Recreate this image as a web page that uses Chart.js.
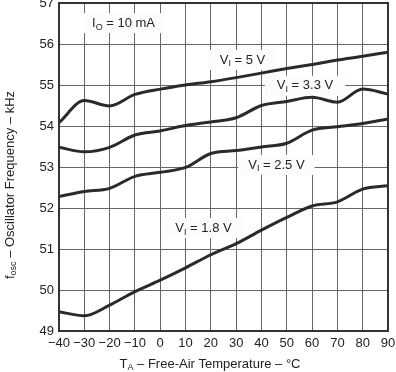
<!DOCTYPE html>
<html>
<head>
<meta charset="utf-8">
<script src="https://cdn.jsdelivr.net/npm/chart.js@4.4.0/dist/chart.umd.min.js"></script>
<style>
  html, body { margin: 0; padding: 0; background: #fff; }
  #wrap { width: 396px; height: 372px; }
</style>
</head>
<body>
<div id="wrap"><canvas id="freqChart"></canvas></div>
<script>
// temperature in °C, frequency in kHz
const temps = [-40, -30, -20, -10, 0, 10, 20, 30, 40, 50, 60, 70, 80, 90];
const vi5V  = [54.08, 54.62, 54.49, 54.77, 54.90, 55.00, 55.08, 55.18, 55.29, 55.40, 55.50, 55.61, 55.70, 55.80];
const vi33V = [53.48, 53.37, 53.48, 53.78, 53.88, 54.01, 54.10, 54.20, 54.50, 54.60, 54.70, 54.58, 54.90, 54.78];
const vi25V = [52.28, 52.40, 52.48, 52.77, 52.87, 52.99, 53.33, 53.40, 53.49, 53.58, 53.90, 53.98, 54.06, 54.17];
const vi18V = [49.47, 49.37, 49.63, 49.96, 50.24, 50.54, 50.86, 51.13, 51.46, 51.77, 52.05, 52.15, 52.46, 52.54];
const yTicks = [49, 50, 51, 52, 53, 54, 55, 56, 57];

const FONT = '"Liberation Sans", Arial, sans-serif';
const mainFont = '13px ' + FONT;
const subFont = '9px ' + FONT;

// curve labels, placed in data coordinates (°C, kHz)
const notes = [
    { parts: [['I', 0], ['O', 1], [' = 10 mA', 0]], t: -14.5, f: 56.51, padX: 10 },
    { parts: [['V', 0], ['I', 1], [' = 5 V', 0]], t: 32.5, f: 55.61, padX: 12 },
    { parts: [['V', 0], ['I', 1], [' = 3.3 V', 0]], t: 57.2, f: 54.98, padX: 12 },
    { parts: [['V', 0], ['I', 1], [' = 2.5 V', 0]], t: 45.9, f: 53.05, padX: 10 },
    { parts: [['V', 0], ['I', 1], [' = 1.8 V', 0]], t: 17.1, f: 51.51, padX: 12 }
];

function toXY(xs, ys) {
    return xs.map((x, i) => ({ x: x, y: ys[i] }));
}

function richWidth(ctx, parts) {
    let w = 0;
    parts.forEach(p => {
        ctx.font = p[1] ? subFont : mainFont;
        w += ctx.measureText(p[0]).width;
    });
    return w;
}

// draws text with subscript pieces, centred on x, middle baseline at y
function drawRich(ctx, parts, x, y) {
    const w = richWidth(ctx, parts);
    let cx = x - w / 2;
    ctx.textAlign = 'left';
    ctx.textBaseline = 'middle';
    parts.forEach(p => {
        ctx.font = p[1] ? subFont : mainFont;
        ctx.fillText(p[0], cx, y + (p[1] ? 4 : 0));
        cx += ctx.measureText(p[0]).width;
    });
}

const labelPlugin = {
    id: 'labelPlugin',
    beforeDatasetsDraw(chart) {
        const ctx = chart.ctx;
        const xs = chart.scales.x, ys = chart.scales.y;
        ctx.save();
        notes.forEach(n => {
            const px = xs.getPixelForValue(n.t);
            const py = ys.getPixelForValue(n.f);
            const w = richWidth(ctx, n.parts);
            ctx.fillStyle = '#fcfcfc';
            ctx.fillRect(px - w / 2 - n.padX, py - 10, w + 2 * n.padX, 20);
            ctx.fillStyle = '#222';
            drawRich(ctx, n.parts, px, py);
        });
        ctx.restore();
    },
    afterDraw(chart) {
        const ctx = chart.ctx;
        const a = chart.chartArea;
        ctx.save();
        ctx.strokeStyle = '#333';
        ctx.lineWidth = 2;
        ctx.strokeRect(a.left, a.top, a.right - a.left, a.bottom - a.top);

        ctx.fillStyle = '#222';
        // x axis title
        drawRich(ctx, [['T', 0], ['A', 1], [' \u2013 Free-Air Temperature \u2013 \u00B0C', 0]], 210, 364);
        // y axis title
        ctx.translate(10, 185);
        ctx.rotate(-Math.PI / 2);
        drawRich(ctx, [['f', 0], ['osc', 1], [' \u2013 Oscillator Frequency \u2013 kHz', 0]], 0, 0);
        ctx.restore();
    }
};

const lineStyle = {
    borderColor: '#2a2a2a',
    borderWidth: 3,
    pointRadius: 0,
    fill: false,
    cubicInterpolationMode: 'monotone'
};

const ctx = document.getElementById('freqChart').getContext('2d');
new Chart(ctx, {
    type: 'line',
    data: {
        datasets: [
            Object.assign({ label: 'VI = 5 V', data: toXY(temps, vi5V) }, lineStyle),
            Object.assign({ label: 'VI = 3.3 V', data: toXY(temps, vi33V) }, lineStyle),
            Object.assign({ label: 'VI = 2.5 V', data: toXY(temps, vi25V) }, lineStyle),
            Object.assign({ label: 'VI = 1.8 V', data: toXY(temps, vi18V) }, lineStyle)
        ]
    },
    options: {
        responsive: true,
        maintainAspectRatio: false,
        animation: false,
        layout: { padding: { left: 0, right: 8, top: 3, bottom: 0 } },
        plugins: {
            legend: { display: false },
            tooltip: { enabled: false }
        },
        scales: {
            x: {
                type: 'linear',
                min: -40,
                max: 90,
                afterFit: s => {
                    s.height = 41;
                    s.paddingLeft = 0;
                    s.paddingRight = 0;
                },
                ticks: {
                    stepSize: 10,
                    padding: 5,
                    color: '#222',
                    font: { family: FONT, size: 13 },
                    maxRotation: 0,
                    callback: v => String(v).replace('-', '\u2212')
                },
                grid: { color: '#666', lineWidth: 1, drawTicks: false },
                border: { display: false }
            },
            y: {
                min: 49,
                max: 57,
                afterFit: s => {
                    s.width = 59;
                    s.paddingTop = 0;
                    s.paddingBottom = 0;
                },
                afterBuildTicks: s => { s.ticks = yTicks.map(v => ({ value: v })); },
                ticks: {
                    padding: 5,
                    color: '#222',
                    font: { family: FONT, size: 13 }
                },
                grid: { color: '#666', lineWidth: 1, drawTicks: false },
                border: { display: false }
            }
        }
    },
    plugins: [labelPlugin]
});
</script>
</body>
</html>
